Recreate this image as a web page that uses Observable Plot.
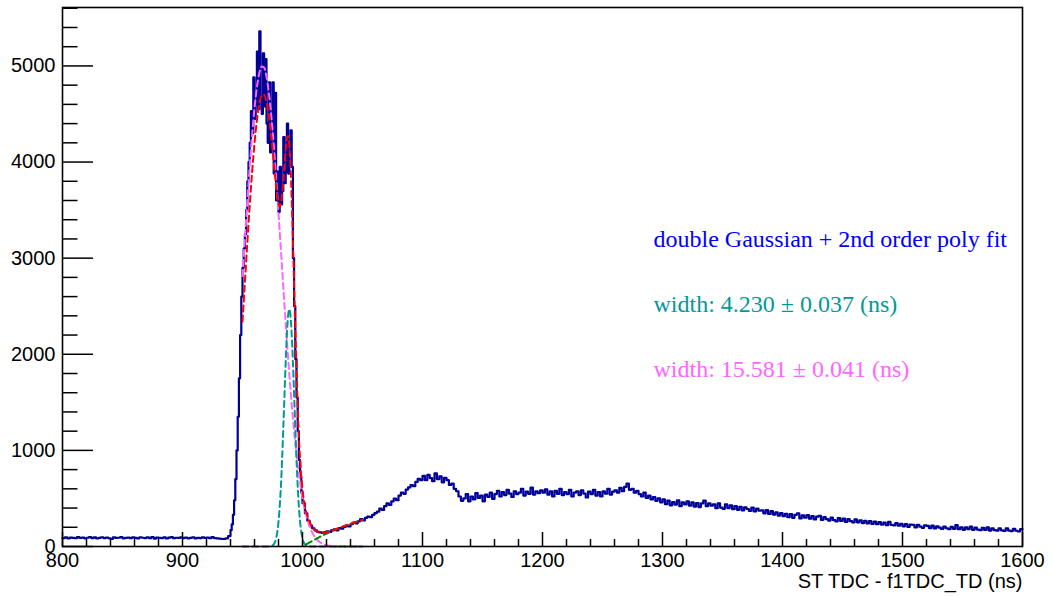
<!DOCTYPE html>
<html>
<head>
<meta charset="utf-8">
<script src="https://cdn.jsdelivr.net/npm/d3@7"></script>
<script src="https://cdn.jsdelivr.net/npm/@observablehq/plot@0.6"></script>
<style>
  html, body { margin: 0; padding: 0; background: #ffffff; }
  #chart { width: 1052px; height: 596px; }
</style>
</head>
<body>
<div id="chart"></div>
<script>
// ---------------- data ----------------
// histogram counts: 800–940 ns in 2 ns bins
const lowStart = 800, lowWidth = 2;
const lowCounts = [
  88,95,84,92,90,86,97,89,93,85,
  91,99,87,94,83,90,96,88,92,86,
  78,94,89,91,97,85,90,93,87,95,
  89,84,96,91,88,94,86,99,82,93,
  90,87,95,83,92,98,86,91,89,94,
  88,93,85,90,96,84,91,87,95,89,
  92,86,97,88,84,82,78,80,85,108
];
// 940–1000 ns in 1 ns bins (peak region)
const peakStart = 940, peakWidth = 1;
const peakCounts = [
  170,230,330,480,700,1000,1350,1750,2200,2600,
  2900,3100,3250,3500,3800,4000,4200,4530,4300,4880,
  4450,4600,5150,4550,5360,4650,4500,5130,4580,5070,
  4400,4200,4830,4100,4350,4830,3880,4720,3600,3900,
  3480,3950,3560,3700,4260,3780,3900,4400,3880,4100,
  4330,3950,3000,2500,1950,1550,1200,900,720,560
];
// 1000–1600 ns in 2 ns bins
const tailStart = 1000, tailWidth = 2;
const tailCounts = [
  450,345,268,218,190,168,152,146,141,150,
  158,152,170,178,168,192,185,204,212,208,
  232,248,241,262,285,271,298,312,305,330,
  348,362,395,380,420,448,432,470,498,482,
  530,560,548,592,615,640,628,672,705,690,
  735,690,745,712,680,760,702,730,668,715,
  690,640,655,600,575,520,475,500,545,470,
  520,490,555,505,530,470,540,515,560,495,
  545,580,520,565,535,590,550,515,575,545,
  560,600,530,570,548,612,540,575,555,585,
  560,595,540,575,520,580,548,600,535,565,
  545,590,520,560,575,535,585,550,510,570,
  545,590,530,565,520,575,550,600,540,570,
  585,560,610,575,620,655,590,600,560,580,
  545,520,560,505,530,490,515,475,500,460,
  490,440,478,428,462,435,480,420,460,438,
  470,425,460,415,452,410,448,478,420,450,
  425,438,398,448,405,392,438,400,428,388,
  420,382,412,375,408,390,370,405,365,395,
  372,375,345,378,338,368,332,356,322,348,
  315,340,305,336,298,330,346,292,324,300,
  328,290,316,282,310,320,276,306,284,270,
  300,274,262,296,266,290,256,284,264,250,
  282,252,272,244,268,240,264,234,260,232,
  254,228,248,222,256,226,220,244,216,236,
  210,234,204,228,224,198,226,206,194,220,
  214,192,218,188,210,196,182,208,190,180,
  204,184,222,180,200,174,198,180,206,172,
  196,176,170,194,172,200,166,190,170,165,
  188,168,162,190,166,160,184,164,156,180
];
const histEnd = 1600;

// fit curves, sampled (ns)
const fitX = [
  950,952,954,956,958,960,962,964,966,968,970,972,974,
  975,976,977,978,979,980,981,982,983,984,985,986,987,988,989,990,991,992,993,994,995,996,997,998,999,1000,1001,1002,1003,
  1004,1006,1008,1010,1012,1014,1016,1018,1020,1022,1024,1026,1028,1030,1032,1034,1036,1038,1040,1042,1044,1046,1048,1050
];
const fitTotal = [
  2340,2752,3157,3543,3893,4195,4435,4603,4694,4702,4628,4479,4263,
  4136,4003,3868,3744,3637,3565,3537,3567,3658,3798,3966,4130,4245,4270,4179,3958,3620,3196,2728,2261,1826,1450,1145,907,727,593,495,421,363,
  319,253,206,176,157,147,143,144,148,155,163,172,181,190,200,209,218,227,236,244,253,260,268,275
];
const fitWide = [
  2815,3204,3587,3950,4279,4559,4778,4925,4995,4983,4889,4719,4480,
  4339,4184,4018,3844,3661,3474,3281,3087,2893,2699,2508,2322,2140,1964,1796,1635,1482,1338,1203,1078,961,853,755,665,583,509,443,384,331,
  285,208,149,105,73,50,33,22,14,9,6,4,2,1,0,0,0,0,0,0,0,0,0,0
];
const fitNarrow = [
  0,0,0,0,0,0,0,0,0,0,0,1,5,
  10,22,44,84,151,257,413,628,904,1229,1580,1921,2209,2402,2470,2402,2209,1921,1580,1229,904,628,413,257,151,84,44,22,10,
  5,1,0,0,0,0,0,0,0,0,0,0,0,0,0,0,0,0,0,0,0,0,0,0
];
const fitPoly = [
  -475,-452,-430,-407,-386,-364,-343,-322,-301,-281,-261,-241,-222,
  -212,-203,-194,-184,-175,-166,-157,-148,-139,-130,-122,-113,-104,-96,-87,-79,-71,-63,-55,-46,-39,-31,-23,-15,-8,0,7,15,22,
  29,44,57,71,84,97,110,122,134,146,157,168,179,189,199,209,218,227,236,244,253,260,268,275
];

const xMajorTicks = [800,900,1000,1100,1200,1300,1400,1500,1600];
const xMinorTicks = d3.range(800, 1601, 20).filter(v => v % 100 !== 0);
const yMajorTicks = [0,1000,2000,3000,4000,5000];
const yMinorTicks = d3.range(0, 5601, 200).filter(v => v % 1000 !== 0);

const noteTexts = [
  "double Gaussian + 2nd order poly fit",
  "width: 4.230 \u00b1 0.037 (ns)",
  "width: 15.581 \u00b1 0.041 (ns)"
];
const noteColors = ["#0000ff", "#009999", "#ff66ff"];
const xTitle = "ST TDC - f1TDC_TD (ns)";

// ---------------- build ----------------
const hist = [];
lowCounts.forEach((c, i) => hist.push({x: lowStart + i * lowWidth, y: c}));
peakCounts.forEach((c, i) => hist.push({x: peakStart + i * peakWidth, y: c}));
tailCounts.forEach((c, i) => hist.push({x: tailStart + i * tailWidth, y: c}));
hist.push({x: histEnd, y: tailCounts[tailCounts.length - 1]});

const fits = fitX.map((x, i) => ({x, total: fitTotal[i], wide: fitWide[i], narrow: fitNarrow[i], poly: fitPoly[i]}));

const W = 1052, H = 596, ML = 62, MR = 30, MT = 7, MB = 50;
const plotW = W - ML - MR, plotH = H - MT - MB;

const dash = {strokeWidth: 2, strokeDasharray: "6,4", curve: "monotone-x"};

const noteMarks = noteTexts.map((t, i) => Plot.text([t], {
  frameAnchor: "top-left", dx: 591, dy: [239, 304.5, 369.5][i],
  lineAnchor: "bottom", textAnchor: "start",
  fill: noteColors[i], fontSize: 24, fontFamily: "Liberation Serif"
}));

const chart = Plot.plot({
  width: W, height: H,
  marginLeft: ML, marginRight: MR, marginTop: MT, marginBottom: MB,
  x: {domain: [800, 1600]},
  y: {domain: [0, 5608]},
  style: {fontFamily: "Liberation Sans, Arial, sans-serif", fontSize: "20px", background: "#ffffff", color: "#000"},
  marks: [
    Plot.line(hist, {x: "x", y: "y", curve: "step-after", stroke: "#000099", strokeWidth: 2.2}),
    Plot.line(fits, {x: "x", y: "wide", stroke: "#ff66ff", ...dash}),
    Plot.line(fits, {x: "x", y: "narrow", stroke: "#009999", ...dash}),
    Plot.line(fits, {x: "x", y: "poly", stroke: "#008800", clip: true, ...dash}),
    Plot.line(fits, {x: "x", y: "total", stroke: "#ff0000", ...dash}),
    Plot.ruleX(xMajorTicks, {x: d => d, stroke: "#000", strokeWidth: 1.5, insetTop: plotH - 14}),
    Plot.ruleX(xMinorTicks, {x: d => d, stroke: "#000", strokeWidth: 1.5, insetTop: plotH - 7}),
    Plot.ruleY(yMajorTicks, {y: d => d, stroke: "#000", strokeWidth: 1.5, insetRight: plotW - 31}),
    Plot.ruleY(yMinorTicks, {y: d => d, stroke: "#000", strokeWidth: 1.5, insetRight: plotW - 15.5}),
    Plot.frame({stroke: "#000", strokeWidth: 1.6}),
    Plot.axisX({ticks: xMajorTicks, tickSize: 0, tickPadding: 6, tickFormat: d3.format("d"), label: null, fontSize: 20}),
    Plot.axisY({ticks: yMajorTicks, tickSize: 0, tickPadding: 7, tickFormat: d3.format("d"), label: null, fontSize: 20}),
    Plot.text([xTitle], {frameAnchor: "bottom-right", dy: 41, lineAnchor: "bottom", textAnchor: "end", fontSize: 20, fill: "#000"}),
    ...noteMarks
  ]
});
document.getElementById("chart").appendChild(chart);
</script>
</body>
</html>
